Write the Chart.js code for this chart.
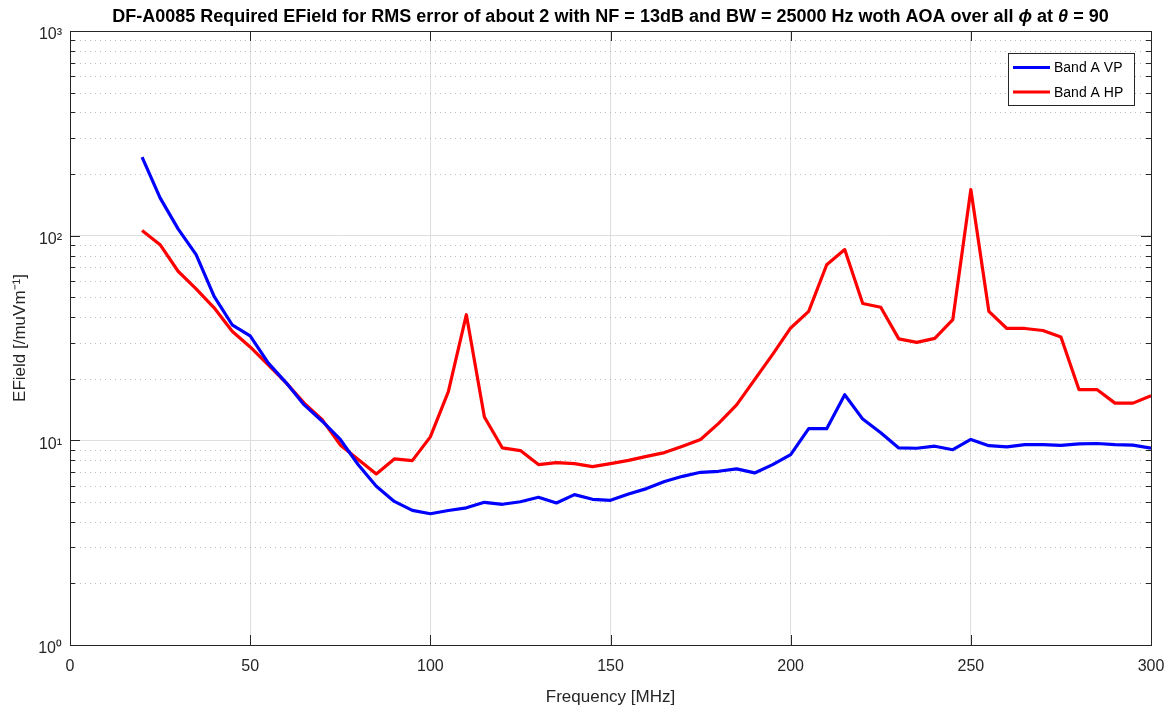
<!DOCTYPE html>
<html>
<head>
<meta charset="utf-8">
<script src="https://cdn.jsdelivr.net/npm/chart.js@4.4.1/dist/chart.umd.min.js"></script>
<style>
    html, body { margin: 0; padding: 0; background: #fff; }
    #wrap { width: 1171px; height: 708px; }
</style>
</head>
<body>
<div id="wrap"><canvas id="efChart" width="1171" height="708"></canvas></div>
<script>
/* ---------- DATA ---------- */

const freqs = [20, 25, 30, 35, 40, 45, 50, 55, 60, 65, 70, 75, 80, 85, 90, 95, 100,
    105, 110, 115, 120, 125, 130, 135, 140, 145, 150, 155, 160, 165, 170, 175, 180,
    185, 190, 195, 200, 205, 210, 215, 220, 225, 230, 235, 240, 245, 250, 255, 260,
    265, 270, 275, 280, 285, 290, 295, 300];

const vpValues = [242, 153, 108, 80.8, 50.5, 36.7, 32.4, 23.9, 19.1, 14.9, 12.4, 10.1, 7.6,
    5.96, 5.03, 4.55, 4.38, 4.54, 4.68, 4.98, 4.87, 5.01, 5.27, 4.94, 5.43, 5.15, 5.09,
    5.47, 5.81, 6.29, 6.67, 6.98, 7.06, 7.25, 6.93, 7.61, 8.51, 11.4, 11.4, 16.7, 12.7,
    10.9, 9.18, 9.15, 9.36, 9.0, 10.1, 9.42, 9.29, 9.53, 9.53, 9.45, 9.6, 9.65, 9.53,
    9.47, 9.15];

const hpValues = [106, 90.4, 67.0, 55.0, 44.4, 34.1, 28.6, 23.4, 19.1, 15.2, 12.6, 9.5, 8.05,
    6.85, 8.11, 7.96, 10.4, 17.3, 41.1, 13.0, 9.18, 8.91, 7.61, 7.78, 7.69, 7.44, 7.69,
    7.98, 8.35, 8.71, 9.36, 10.1, 12.1, 14.9, 19.8, 26.3, 35.4, 42.7, 72.1, 85.5, 46.6,
    44.7, 31.3, 30.1, 31.5, 38.9, 168, 42.7, 35.2, 35.2, 34.4, 32.0, 17.7, 17.7, 15.2,
    15.2, 16.5];

const seriesNames = ["Band A VP", "Band A HP"];
const yTickLabels = { 1: "10⁰", 10: "10¹", 100: "10²", 1000: "10³" };
const xTickStep = 50;

// title split so the greek letters can be set in italics
const titleParts = [
    ["DF-A0085 Required EField for RMS error of about 2 with NF = 13dB and BW = 25000 Hz woth AOA over all ", false],
    ["ϕ", true],
    [" at ", false],
    ["θ", true],
    [" = 90", false]
];

/* ---------- HELPERS ---------- */

const FONT = "'Liberation Sans', Arial, Helvetica, sans-serif";

function toPoints(values) {
    return freqs.map((f, i) => ({ x: f, y: values[i] }));
}

function isMajor(v) {
    return yTickLabels[v] !== undefined;
}

/* ---------- PLUGINS ---------- */

// dotted minor grid under the lines
const minorGrid = {
    id: "minorGrid",
    beforeDatasetsDraw(chart) {
        const { ctx, chartArea, scales } = chart;
        ctx.save();
        ctx.strokeStyle = "#bdbdbd";
        ctx.lineWidth = 1;
        ctx.setLineDash([1, 4]);
        for (let d = 1; d < 1000; d *= 10) {
            for (let k = 2; k <= 9; k++) {
                const y = Math.round(scales.y.getPixelForValue(k * d)) + 0.5;
                ctx.beginPath();
                ctx.moveTo(chartArea.left, y);
                ctx.lineTo(chartArea.right, y);
                ctx.stroke();
            }
        }
        ctx.restore();
    }
};

// matlab style box with inward ticks
const axesBox = {
    id: "axesBox",
    afterDatasetsDraw(chart) {
        const { ctx, chartArea: a, scales } = chart;
        ctx.save();
        ctx.strokeStyle = "#262626";
        ctx.lineWidth = 1;
        ctx.beginPath();
        for (let v = scales.x.min; v <= scales.x.max; v += xTickStep) {
            const x = Math.round(scales.x.getPixelForValue(v)) + 0.5;
            ctx.moveTo(x, a.bottom); ctx.lineTo(x, a.bottom - 10);
            ctx.moveTo(x, a.top); ctx.lineTo(x, a.top + 10);
        }
        for (let d = 1; d <= 1000; d *= 10) {
            for (let k = 1; k <= 9; k++) {
                if (k * d > 1000) break;
                const len = k === 1 ? 10 : 5;
                const y = Math.round(scales.y.getPixelForValue(k * d)) + 0.5;
                ctx.moveTo(a.left, y); ctx.lineTo(a.left + len, y);
                ctx.moveTo(a.right, y); ctx.lineTo(a.right - len, y);
            }
        }
        ctx.stroke();
        ctx.strokeRect(Math.round(a.left) + 0.5, Math.round(a.top) + 0.5,
            Math.round(a.right - a.left), Math.round(a.bottom - a.top));
        ctx.restore();
    }
};

// legend box inside the plot, top right
const boxLegend = {
    id: "boxLegend",
    afterDraw(chart) {
        const { ctx, chartArea: a } = chart;
        const w = 126, h = 52;
        const x0 = a.right - 17 - w, y0 = a.top + 22;
        ctx.save();
        ctx.fillStyle = "#fff";
        ctx.fillRect(x0, y0, w, h);
        ctx.strokeStyle = "#262626";
        ctx.lineWidth = 1;
        ctx.strokeRect(x0 + 0.5, y0 + 0.5, w, h);
        ctx.font = "14px " + FONT;
        ctx.textBaseline = "middle";
        chart.data.datasets.forEach((ds, i) => {
            const y = y0 + 14.5 + i * 24.5;
            ctx.strokeStyle = ds.borderColor;
            ctx.lineWidth = 3;
            ctx.beginPath();
            ctx.moveTo(x0 + 5, y);
            ctx.lineTo(x0 + 42, y);
            ctx.stroke();
            ctx.fillStyle = "#000";
            ctx.fillText(ds.label, x0 + 46, y + 1);
        });
        ctx.restore();
    }
};

// title centred over the plot area
const plotTitle = {
    id: "plotTitle",
    afterDraw(chart) {
        const { ctx, chartArea: a } = chart;
        const fontFor = it => (it ? "italic bold " : "bold ") + "18px " + FONT;
        ctx.save();
        ctx.fillStyle = "#000";
        ctx.textBaseline = "middle";
        let total = 0;
        titleParts.forEach(([t, it]) => { ctx.font = fontFor(it); total += ctx.measureText(t).width; });
        let x = (a.left + a.right) / 2 - total / 2;
        titleParts.forEach(([t, it]) => {
            ctx.font = fontFor(it);
            ctx.fillText(t, x, 17);
            x += ctx.measureText(t).width;
        });
        ctx.restore();
    }
};

/* ---------- CHART ---------- */

new Chart(document.getElementById("efChart"), {
    type: "line",
    data: {
        datasets: [
            { label: seriesNames[0], data: toPoints(vpValues), borderColor: "#0000ff" },
            { label: seriesNames[1], data: toPoints(hpValues), borderColor: "#ff0000" }
        ]
    },
    options: {
        responsive: false,
        animation: false,
        elements: {
            line: { borderWidth: 3.2, tension: 0, borderJoinStyle: "round" },
            point: { radius: 0 }
        },
        layout: { padding: { left: 0, right: 20, top: 31, bottom: 0 } },
        scales: {
            x: {
                type: "linear",
                min: 0,
                max: 300,
                afterFit: s => { s.height = 63; s.paddingRight = 0; s.paddingLeft = 0; },
                ticks: { stepSize: xTickStep, color: "#262626", font: { size: 16, family: FONT }, padding: 12 },
                grid: { color: "#dedede", drawTicks: false },
                border: { display: false },
                title: { display: true, text: "Frequency [MHz]", color: "#262626",
                    font: { size: 17, family: FONT }, padding: { top: 4, bottom: 0 } }
            },
            y: {
                type: "logarithmic",
                min: 1,
                max: 1000,
                afterFit: s => { s.width = 70; s.paddingTop = 0; s.paddingBottom = 0; },
                ticks: {
                    autoSkip: false,
                    color: "#262626",
                    font: { size: 16, family: FONT },
                    padding: 8,
                    labelOffset: 4,
                    callback: v => yTickLabels[v] || ""
                },
                grid: {
                    drawTicks: false,
                    color: c => isMajor(c.tick.value) ? "#dedede" : "rgba(0,0,0,0)"
                },
                border: { display: false },
                title: { display: true, text: "EField [/muVm⁻¹]", color: "#262626",
                    font: { size: 17, family: FONT }, padding: { top: 10, bottom: 2 } }
            }
        },
        plugins: {
            legend: { display: false },
            tooltip: { enabled: false },
            title: { display: false }
        }
    },
    plugins: [minorGrid, axesBox, boxLegend, plotTitle]
});
</script>
</body>
</html>
